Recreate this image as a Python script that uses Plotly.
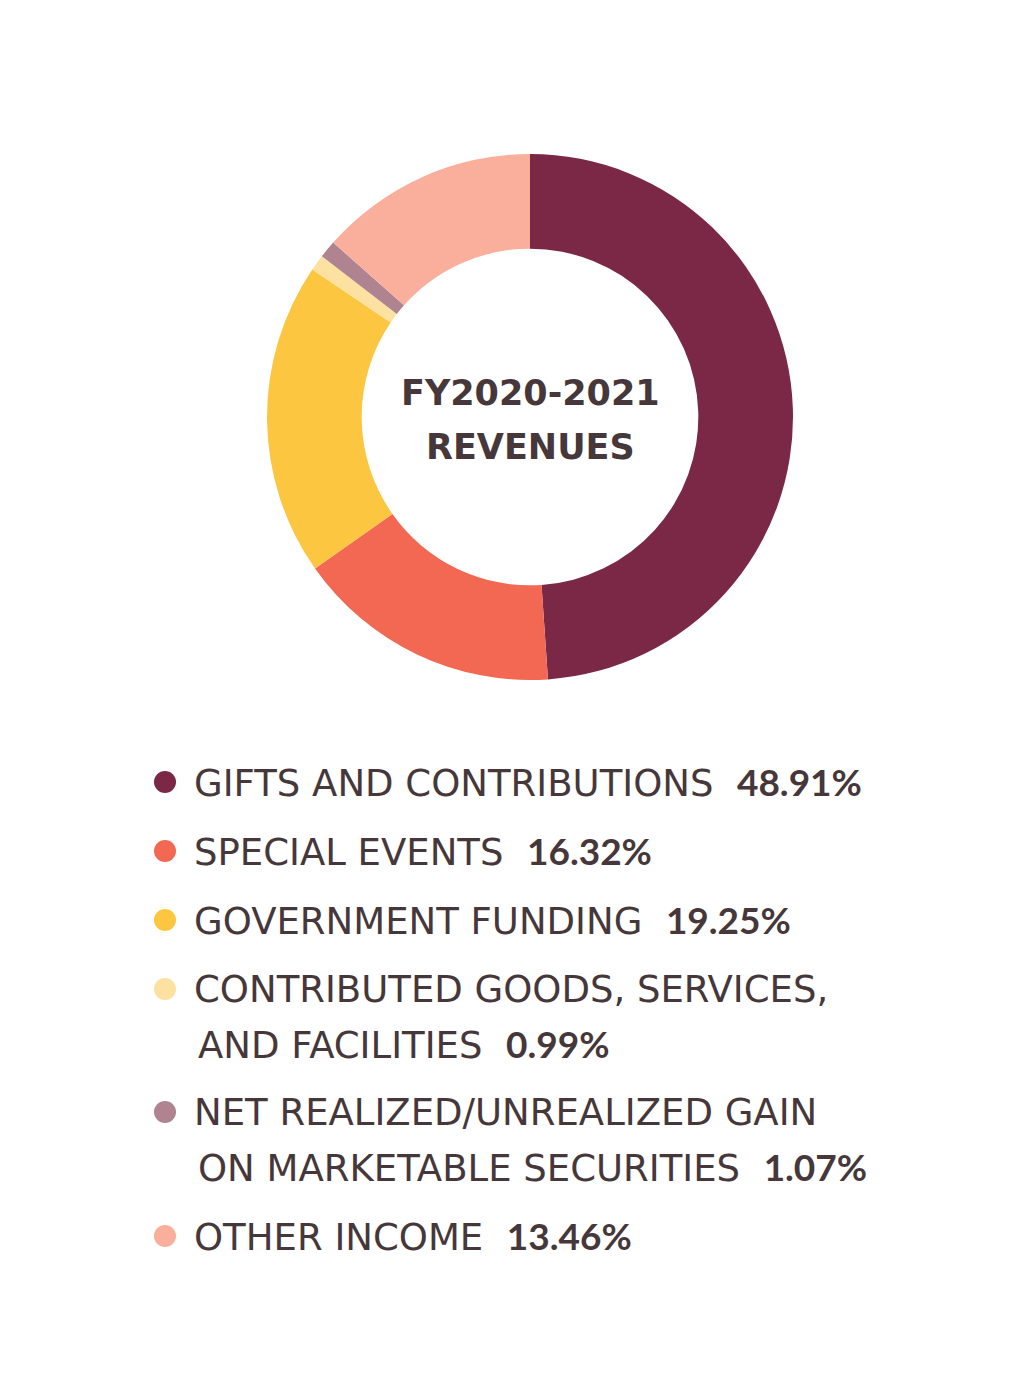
import plotly.graph_objects as go

# revenue split, FY2020-2021
labels = [
    "GIFTS AND CONTRIBUTIONS",
    "SPECIAL EVENTS",
    "GOVERNMENT FUNDING",
    "CONTRIBUTED GOODS, SERVICES, AND FACILITIES",
    "NET REALIZED/UNREALIZED GAIN ON MARKETABLE SECURITIES",
    "OTHER INCOME",
]
# how the long labels wrap in the legend
label_lines = [
    ["GIFTS AND CONTRIBUTIONS"],
    ["SPECIAL EVENTS"],
    ["GOVERNMENT FUNDING"],
    ["CONTRIBUTED GOODS, SERVICES,", "AND FACILITIES"],
    ["NET REALIZED/UNREALIZED GAIN", "ON MARKETABLE SECURITIES"],
    ["OTHER INCOME"],
]
shares = [48.91, 16.32, 19.25, 0.99, 1.07, 13.46]
colors = ["#7A2846", "#F26852", "#FCC640", "#FDE1A0", "#B08390", "#F9AF9B"]

# legend rows (pixel y of first text line)
row_y = [782, 851, 920, 989, 1112, 1236]

W, H = 1025, 1400
OFF = 8  # page body margin
TEXT = "#46373A"
FONT = "DejaVu Sans"

fig = go.Figure()

cx, cy, r = 530 - OFF, 417 - OFF, 263
fig.add_trace(go.Pie(
    labels=labels,
    values=shares,
    marker=dict(colors=colors, line=dict(width=0)),
    hole=0.64,
    sort=False,
    direction="clockwise",
    rotation=0,
    textinfo="none",
    hoverinfo="label+percent",
    showlegend=False,
    domain=dict(x=[(cx - r) / W, (cx + r) / W], y=[1 - (cy + r) / H, 1 - (cy - r) / H]),
))

# legend dots
fig.add_trace(go.Scatter(
    x=[165 - OFF] * len(row_y),
    y=[y - OFF for y in row_y],
    mode="markers",
    marker=dict(color=colors, size=22),
    hoverinfo="skip",
    showlegend=False,
))

for lines, val, y in zip(label_lines, shares, row_y):
    for i, line in enumerate(lines):
        text = line
        if i == len(lines) - 1:
            text += ("\u00a0\u00a0<span style='font-family:Lato;font-weight:900'>"
                     "<b>%.2f%%</b></span>" % val)
        fig.add_annotation(
            x=(192 if i == 0 else 196) - OFF, y=y - OFF + 55 * i,
            xref="x", yref="y",
            text=text, showarrow=False,
            xanchor="left", yanchor="middle",
            align="left",
            font=dict(family=FONT, size=37, color=TEXT),
        )

for i, line in enumerate(["FY2020-2021", "REVENUES"]):
    fig.add_annotation(
        x=cx, y=393 - OFF + 54 * i, xref="x", yref="y",
        text="<b>%s</b>" % line,
        showarrow=False, yanchor="middle",
        font=dict(family=FONT, size=35, color=TEXT),
    )

fig.update_xaxes(range=[0, W], visible=False, fixedrange=True)
fig.update_yaxes(range=[H, 0], visible=False, fixedrange=True)

fig.update_layout(
    width=W, height=H,
    margin=dict(l=0, r=0, t=0, b=0),
    paper_bgcolor="white",
    plot_bgcolor="white",
)

fig.write_html("out.html")
